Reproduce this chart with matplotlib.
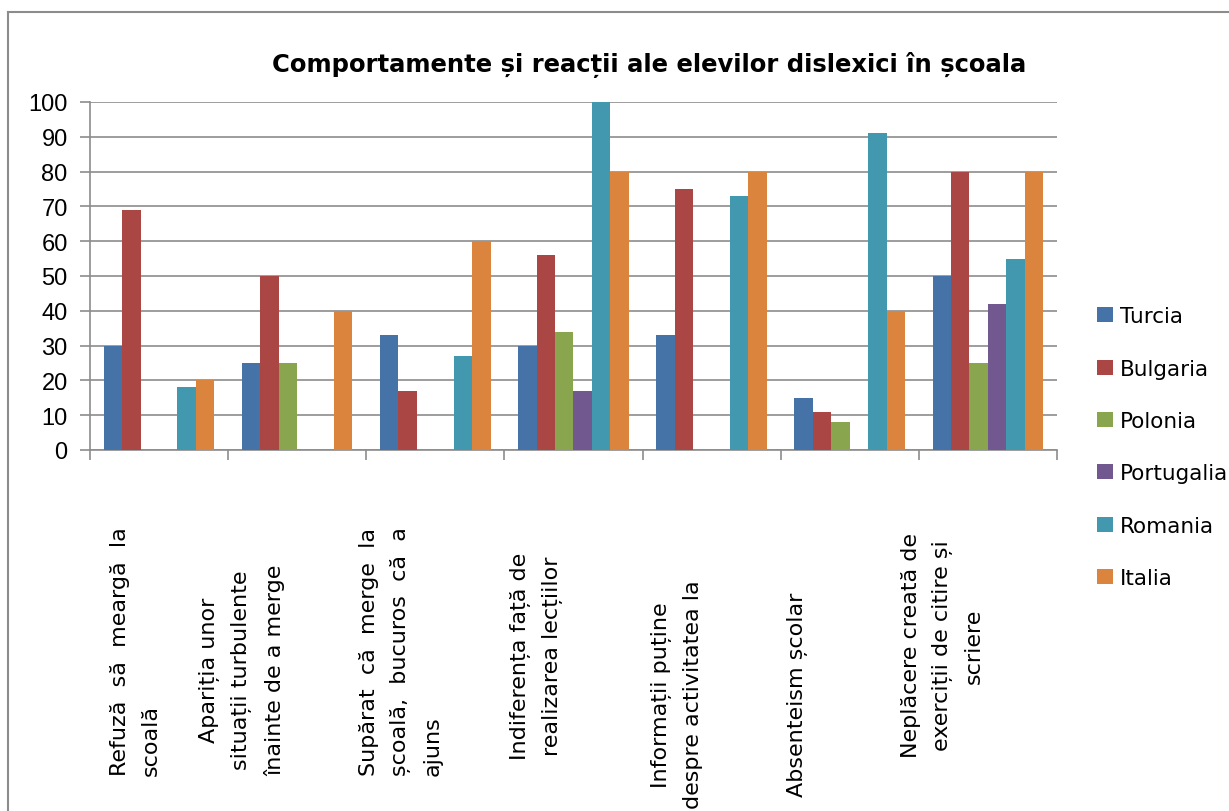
import numpy as np
import matplotlib
matplotlib.use("Agg")
import matplotlib.pyplot as plt
from matplotlib.lines import Line2D
import matplotlib.transforms as mtransforms

# categories (label text as in the original, with its line breaks)
categories = [
    "Refuză  să  meargă  la\nscoală",
    "Apariția unor\nsituații turbulente\nînainte de a merge",
    "Supărat  că  merge  la\nșcoală,  bucuros  că  a\najuns",
    "Indiferența față de\nrealizarea lecțiilor",
    "Informații puține\ndespre activitatea la",
    "Absenteism școlar",
    "Neplăcere creată de\nexerciții de citire și\nscriere",
]
countries = ["Turcia", "Bulgaria", "Polonia", "Portugalia", "Romania", "Italia"]

turcia = [30, 25, 33, 30, 33, 15, 50]
bulgaria = [69, 50, 17, 56, 75, 11, 80]
polonia = [0, 25, 0, 34, 0, 8, 25]
portugalia = [0, 0, 0, 17, 0, 0, 42]
romania = [18, 0, 27, 100, 73, 91, 55]
italia = [20, 40, 60, 80, 80, 40, 80]

colors = ["#4572A7", "#AA4643", "#89A54E", "#71588F", "#4198AF", "#DB843D"]

# text layout for the rotated category labels
label_shift = [0.33, 0.10, 0.25, 0.23, 0.25, 0.12, 0.17]
label_ypx = [652, 670, 652, 656, 695, 695, 646]
label_align = ["left", "center", "left", "center", "center", "center", "center"]

series = [turcia, bulgaria, polonia, portugalia, romania, italia]

fig = plt.figure(figsize=(12.29, 8.12), dpi=100)
ax = fig.add_axes([0.0732, 0.4446, 0.7868, 0.4286])

n = len(series)
group = 0.8
w = group / n
x = np.arange(len(categories)) + 0.5
for k, (vals, name, col) in enumerate(zip(series, countries, colors)):
    ax.bar(x - group / 2 + w * (k + 0.5), vals, width=w, color=col, label=name, zorder=3)

ax.set_xlim(0, len(categories))
ax.set_ylim(0, 100)
ax.set_yticks(range(0, 101, 10))
ax.set_xticks(range(len(categories) + 1))
ax.set_xticklabels([])
ax.yaxis.grid(True, color="#8c8c8c", lw=1.2, zorder=0)
for s in ["top", "right"]:
    ax.spines[s].set_visible(False)
for s in ["left", "bottom"]:
    ax.spines[s].set_color("#8c8c8c")
    ax.spines[s].set_linewidth(1.2)
ax.tick_params(axis="both", direction="out", color="#8c8c8c", length=7, width=1.2)
ax.tick_params(axis="y", labelsize=17, pad=9)
for t in ax.get_yticklabels():
    t.set_fontfamily("Liberation Sans")

trans = mtransforms.blended_transform_factory(ax.transData, ax.transAxes)
for i, lab in enumerate(categories):
    ypos = -(label_ypx[i] - 451) / 348
    ax.text(i + label_shift[i], ypos, lab, transform=trans, rotation=90,
            ha="center", va="center", multialignment=label_align[i],
            fontsize=16, family="DejaVu Sans", linespacing=1.7)

fig.text(0.528, 0.92, "Comportamente și reacții ale elevilor dislexici în școala",
         ha="center", va="center", fontsize=17.5, fontweight="bold", family="DejaVu Sans")

handles, labels = ax.get_legend_handles_labels()
fig.legend(handles, labels, loc="center left", bbox_to_anchor=(0.893, 0.448),
           frameon=False, fontsize=15.5, handlelength=0.7, handleheight=0.7,
           handletextpad=0.35, labelspacing=1.5, borderpad=0, borderaxespad=0)

# chart border (top and left edges visible)
fig.add_artist(Line2D([8 / 1229, 1], [1 - 13 / 812] * 2, transform=fig.transFigure, color="#8c8c8c", lw=1.5))
fig.add_artist(Line2D([8 / 1229] * 2, [0, 1 - 13 / 812], transform=fig.transFigure, color="#8c8c8c", lw=1.5))

fig.savefig("out.png", dpi=100)
